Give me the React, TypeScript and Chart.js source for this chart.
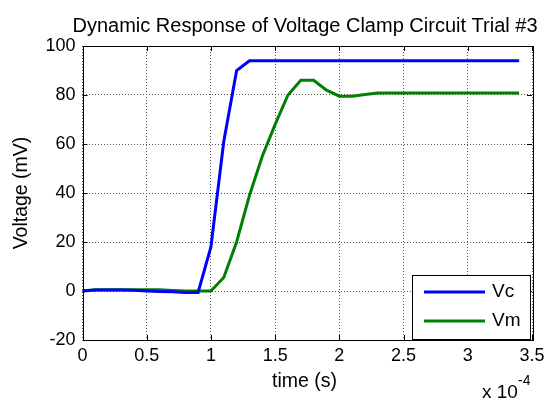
import React, { useEffect, useRef } from "react";
import { Chart, registerables } from "chart.js";

Chart.register(...registerables);

const titleText = "Dynamic Response of Voltage Clamp Circuit Trial #3";
const xLabel = "time (s)";
const yLabel = "Voltage (mV)";
const seriesNames = ["Vc", "Vm"];
const seriesColors = ["#0000FF", "#008000"];
const time = [0, 0.1, 0.2, 0.3, 0.4, 0.5, 0.6, 0.7, 0.8, 0.9, 1.0, 1.1, 1.2, 1.3, 1.4, 1.5, 1.6, 1.7, 1.8, 1.9, 2.0, 2.1, 2.2, 2.3, 2.4, 2.5, 2.6, 2.7, 2.8, 2.9, 3.0, 3.1, 3.2, 3.3, 3.4];
const vc = [0, 0.4, 0.4, 0.4, 0.3, 0, -0.2, -0.3, -0.6, -0.6, 18, 61, 90, 94, 94, 94, 94, 94, 94, 94, 94, 94, 94, 94, 94, 94, 94, 94, 94, 94, 94, 94, 94, 94, 94];
const vm = [0, 0.5, 0.5, 0.5, 0.5, 0.5, 0.5, 0.2, 0, 0, 0, 5.5, 20, 39, 55, 68, 80, 86, 86, 82, 79.5, 79.5, 80.2, 80.8, 80.8, 80.8, 80.8, 80.8, 80.8, 80.8, 80.8, 80.8, 80.8, 80.8, 80.8];
const xTicks = [0, 0.5, 1, 1.5, 2, 2.5, 3, 3.5];
const yTicks = [-20, 0, 20, 40, 60, 80, 100];
const xExponent = "-4";

const FONT = "Arial, 'Liberation Sans', sans-serif";

const decorPlugin = {
  id: "decor",
  afterDatasetsDraw(chart: any) {
    const { ctx, chartArea: a, scales } = chart;
    const xs = scales.x;
    const ys = scales.y;
    ctx.save();
    ctx.strokeStyle = "#000";
    ctx.lineWidth = 1;
    ctx.setLineDash([]);
    ctx.strokeRect(Math.round(a.left) + 0.5, Math.round(a.top) + 0.5, Math.round(a.right - a.left), Math.round(a.bottom - a.top));
    const tl = 5;
    ctx.beginPath();
    xTicks.forEach((t) => {
      const px = Math.round(xs.getPixelForValue(t)) + 0.5;
      ctx.moveTo(px, a.bottom);
      ctx.lineTo(px, a.bottom - tl);
      ctx.moveTo(px, a.top);
      ctx.lineTo(px, a.top + tl);
    });
    yTicks.forEach((t) => {
      const py = Math.round(ys.getPixelForValue(t)) + 0.5;
      ctx.moveTo(a.left, py);
      ctx.lineTo(a.left + tl, py);
      ctx.moveTo(a.right, py);
      ctx.lineTo(a.right - tl, py);
    });
    ctx.stroke();

    ctx.fillStyle = "#000";
    ctx.font = `20px ${FONT}`;
    ctx.textAlign = "center";
    ctx.textBaseline = "alphabetic";
    ctx.fillText(titleText, 305, 32);
    ctx.font = `19.5px ${FONT}`;
    ctx.fillText(xLabel, 304.5, 387);
    ctx.save();
    ctx.translate(27, (a.top + a.bottom) / 2);
    ctx.rotate(-Math.PI / 2);
    ctx.fillText(yLabel, 0, 0);
    ctx.restore();
    ctx.textAlign = "left";
    ctx.font = `19px ${FONT}`;
    ctx.fillText("x 10", 482, 398);
    ctx.font = `14px ${FONT}`;
    ctx.fillText(xExponent, 518, 385);

    const lx = 412, ly = 275, lw = 118, lh = 64;
    ctx.fillStyle = "#fff";
    ctx.fillRect(lx, ly, lw, lh);
    ctx.strokeStyle = "#000";
    ctx.lineWidth = 1;
    ctx.strokeRect(lx + 0.5, ly + 0.5, lw, lh);
    ctx.font = `19px ${FONT}`;
    ctx.textBaseline = "middle";
    seriesNames.forEach((n, i) => {
      const y = ly + 17 + i * 29;
      ctx.strokeStyle = seriesColors[i];
      ctx.lineWidth = 3;
      ctx.beginPath();
      ctx.moveTo(424, y);
      ctx.lineTo(485, y);
      ctx.stroke();
      ctx.fillStyle = "#000";
      ctx.fillText(n, 492, y);
    });
    ctx.restore();
  },
};

export default function App() {
  const ref = useRef<HTMLCanvasElement>(null);
  useEffect(() => {
    if (!ref.current) return;
    const chart = new Chart(ref.current, {
      type: "line",
      data: {
        datasets: [
          {
            label: seriesNames[0],
            data: time.map((t, i) => ({ x: t, y: vc[i] })),
            borderColor: seriesColors[0],
            borderWidth: 3,
            pointRadius: 0,
            tension: 0,
          },
          {
            label: seriesNames[1],
            data: time.map((t, i) => ({ x: t, y: vm[i] })),
            borderColor: seriesColors[1],
            borderWidth: 3,
            pointRadius: 0,
            tension: 0,
          },
        ],
      },
      options: {
        animation: false,
        responsive: false,
        events: [],
        layout: { padding: { top: 46, right: 24, left: 0, bottom: 0 } },
        plugins: { legend: { display: false }, title: { display: false }, tooltip: { enabled: false } },
        scales: {
          x: {
            type: "linear",
            min: 0,
            max: 3.5,
            afterBuildTicks: (s: any) => {
              s.ticks = xTicks.map((v) => ({ value: v }));
            },
            afterFit: (s: any) => {
              s.height = 62;
            },
            ticks: {
              color: "#000",
              font: { size: 18, family: FONT },
              padding: 5,
              maxRotation: 0,
              callback: (v: any) => String(v),
            },
            grid: { color: "#555", drawTicks: false, tickLength: 0 },
            border: { display: false, dash: [1, 2] },
          },
          y: {
            type: "linear",
            min: -20,
            max: 100,
            afterBuildTicks: (s: any) => {
              s.ticks = yTicks.map((v) => ({ value: v }));
            },
            afterFit: (s: any) => {
              s.width = 82.5;
            },
            ticks: {
              color: "#000",
              font: { size: 18, family: FONT },
              padding: 7,
              callback: (v: any) => String(v),
            },
            grid: { color: "#555", drawTicks: false, tickLength: 0 },
            border: { display: false, dash: [1, 2] },
          },
        },
      },
      plugins: [decorPlugin],
    });
    return () => chart.destroy();
  }, []);
  return (
    <div style={{ position: "fixed", left: 0, top: 0, width: 556, height: 402, background: "#fff" }}>
      <canvas ref={ref} width={556} height={402} style={{ width: 556, height: 402 }} />
    </div>
  );
}
